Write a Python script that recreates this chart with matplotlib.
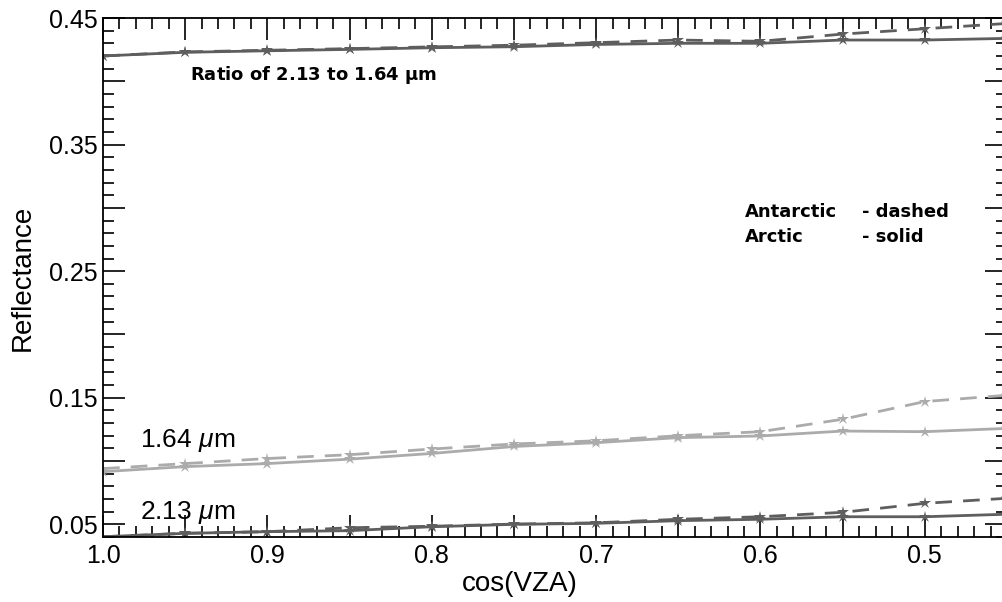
import matplotlib

matplotlib.use("Agg")
import matplotlib.pyplot as plt
from matplotlib.ticker import FixedLocator, FuncFormatter, MultipleLocator

plt.rcParams["font.family"] = ["Liberation Sans", "DejaVu Sans"]
plt.rcParams["mathtext.fontset"] = "custom"
plt.rcParams["mathtext.it"] = "Liberation Sans:italic"
plt.rcParams["mathtext.bf"] = "DejaVu Sans:bold"

# cos(VZA) sample points
COS_VZA = [1.0, 0.95, 0.9, 0.85, 0.8, 0.75, 0.7, 0.65, 0.6, 0.55, 0.5, 0.45]

# ratio of 2.13 to 1.64 um
RATIO_ANTARCTIC = [0.420, 0.4232, 0.4245, 0.4258, 0.4272, 0.4285, 0.4305, 0.4326, 0.4316, 0.4373, 0.4415, 0.4457]
RATIO_ARCTIC = [0.420, 0.4229, 0.4241, 0.4252, 0.4265, 0.4273, 0.4291, 0.4300, 0.4300, 0.4326, 0.4326, 0.4339]

# 1.64 um reflectance
R164_ANTARCTIC = [0.094, 0.098, 0.102, 0.105, 0.1095, 0.1135, 0.116, 0.120, 0.1232, 0.133, 0.147, 0.152]
R164_ARCTIC = [0.0916, 0.0956, 0.098, 0.1015, 0.106, 0.1115, 0.1145, 0.1185, 0.1198, 0.1237, 0.1232, 0.1258]

# 2.13 um reflectance
R213_ANTARCTIC = [0.0402, 0.0429, 0.0442, 0.0473, 0.0485, 0.0502, 0.0512, 0.054, 0.056, 0.0595, 0.0666, 0.0706]
R213_ARCTIC = [0.0402, 0.0429, 0.0442, 0.045, 0.0481, 0.050, 0.0508, 0.0529, 0.054, 0.056, 0.056, 0.058]

DARK = "#5e5e5e"
LIGHT = "#ababab"
DASH = (0, (6, 4))

fig = plt.figure(figsize=(10.03, 6.02), dpi=100)
ax = fig.add_axes([103 / 1003, 1 - 537 / 602, 904 / 1003, 519 / 602])

series = [
    (RATIO_ANTARCTIC, DARK, DASH),
    (RATIO_ARCTIC, DARK, "-"),
    (R164_ANTARCTIC, LIGHT, DASH),
    (R164_ARCTIC, LIGHT, "-"),
    (R213_ANTARCTIC, DARK, DASH),
    (R213_ARCTIC, DARK, "-"),
]
for values, color, style in series:
    ax.plot(COS_VZA, values, color=color, linestyle=style, linewidth=2.0,
            marker="*", markersize=9, markeredgewidth=0)

ax.set_xlim(1.0, 0.45)
ax.set_ylim(0.04, 0.45)

ax.xaxis.set_major_locator(FixedLocator([1.0, 0.95, 0.9, 0.85, 0.8, 0.75, 0.7, 0.65, 0.6, 0.55, 0.5, 0.45]))
ax.xaxis.set_minor_locator(MultipleLocator(0.01))
ax.xaxis.set_major_formatter(FuncFormatter(
    lambda v, p: f"{v:.1f}" if abs(round(v * 10) - v * 10) < 1e-6 else ""))
ax.yaxis.set_major_locator(FixedLocator([0.05, 0.1, 0.15, 0.2, 0.25, 0.3, 0.35, 0.4, 0.45]))
ax.yaxis.set_minor_locator(MultipleLocator(0.01))
ax.yaxis.set_major_formatter(FuncFormatter(
    lambda v, p: f"{v:.2f}" if round(v * 100) % 10 == 5 else ""))

ax.tick_params(which="both", direction="in", top=True, right=True, color="black", width=1.2)
ax.tick_params(which="major", length=16, labelsize=18)
ax.tick_params(which="minor", length=8)
ax.tick_params(axis="x", which="major", pad=5)
ax.tick_params(axis="y", which="major", pad=4)
for spine in ax.spines.values():
    spine.set_linewidth(1.3)

ax.set_xlabel("cos(VZA)", fontsize=20)
ax.set_ylabel("Reflectance", fontsize=20)
ax.xaxis.set_label_coords((520 - 103) / 904, -0.065)
ax.yaxis.set_label_coords((36 - 103) / 904, 0.5)

bold = dict(fontsize=13, fontweight="bold", family="DejaVu Sans", va="center", ha="left")
ax.text(0.947, 0.405, r"Ratio of 2.13 to 1.64 $\mathbf{\mu}$m", **bold)
ax.text(0.6097, 0.2967, "Antarctic", **bold)
ax.text(0.538, 0.2967, "- dashed", **bold)
ax.text(0.6097, 0.277, "Arctic", **bold)
ax.text(0.538, 0.277, "- solid", **bold)

ax.text(0.9775, 0.1166, r"1.64 $\mu$m", fontsize=19, va="center", ha="left")
ax.text(0.9775, 0.0597, r"2.13 $\mu$m", fontsize=19, va="center", ha="left")

fig.savefig("out.png", dpi=100)
